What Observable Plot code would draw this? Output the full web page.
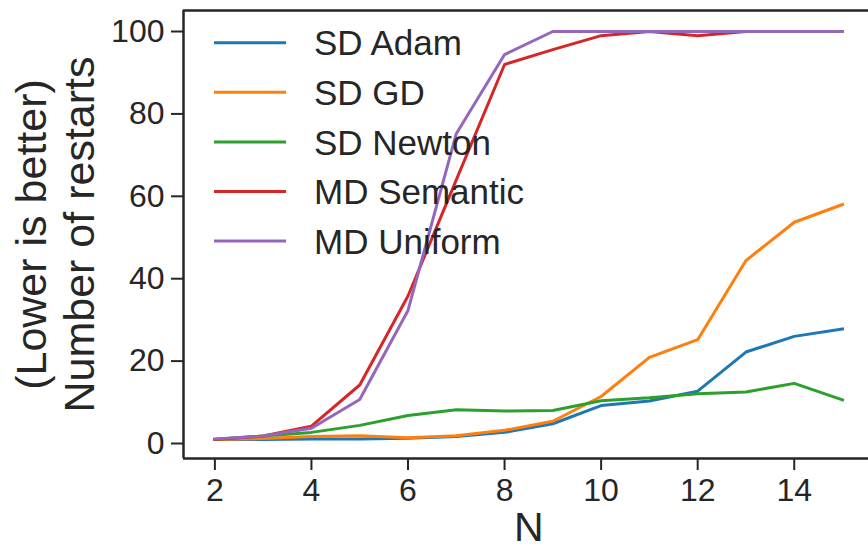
<!DOCTYPE html>
<html>
<head>
<meta charset="utf-8">
<script src="https://cdn.jsdelivr.net/npm/d3@7"></script>
<script src="https://cdn.jsdelivr.net/npm/@observablehq/plot@0.6"></script>
<style>
  html, body { margin: 0; padding: 0; background: #fff; overflow: hidden; }
  #wrap { position: relative; width: 868px; height: 551px; overflow: hidden; }
  #legend { position: absolute; left: 0; top: 0; width: 868px; height: 551px; pointer-events: none; }
</style>
</head>
<body>
<div id="wrap"></div>
<script>
const N = [2, 3, 4, 5, 6, 7, 8, 9, 10, 11, 12, 13, 14, 15];
const seriesNames = ["SD Adam", "SD GD", "SD Newton", "MD Semantic", "MD Uniform"];
const seriesColors = ["#1f77b4", "#ff7f0e", "#2ca02c", "#d62728", "#9467bd"];
const sdAdam     = [1.0, 1.0, 1.1, 1.1, 1.3, 1.7, 2.7, 4.8, 9.2, 10.3, 12.7, 22.2, 26.0, 27.8];
const sdGD       = [1.0, 1.2, 1.7, 1.9, 1.4, 1.9, 3.2, 5.4, 11.4, 20.9, 25.2, 44.4, 53.7, 58.0];
const sdNewton   = [1.0, 1.8, 2.7, 4.4, 6.8, 8.2, 7.9, 8.0, 10.4, 11.1, 12.1, 12.5, 14.6, 10.6];
const mdSemantic = [1.0, 1.8, 4.2, 14.2, 35.8, 64.0, 92.0, 95.6, 99.0, 100, 99.0, 100, 100, 100];
const mdUniform  = [1.1, 1.8, 3.7, 10.7, 32.3, 75.2, 94.4, 100, 100, 100, 100, 100, 100, 100];
const xTicks = [2, 4, 6, 8, 10, 12, 14];
const yTicks = [0, 20, 40, 60, 80, 100];
const xLabel = "N";
const yLabelLines = ["(Lower is better)", "Number of restarts"];

const seriesValues = [sdAdam, sdGD, sdNewton, mdSemantic, mdUniform];
const data = seriesNames.flatMap((s, i) => N.map((n, j) => ({series: s, n, v: seriesValues[i][j]})));

const xDom = [1.35, 15.65];
const yDom = [-3.64, 105.1];
const ink = "#262626";
const font = '"Liberation Sans", Arial, sans-serif';

const chart = Plot.plot({
  width: 868,
  height: 551,
  marginLeft: 183,
  marginRight: 0,
  marginTop: 10,
  marginBottom: 93,
  style: {fontFamily: font, color: ink, background: "white"},
  x: {domain: xDom, range: [183, 873.4]},
  y: {domain: yDom, range: [458, 10]},
  color: {domain: seriesNames, range: seriesColors},
  marks: [
    Plot.axisX({ticks: xTicks, tickSize: 12, tickPadding: 8, fontSize: 32, strokeWidth: 2, stroke: ink, fill: ink, label: null, tickFormat: d => String(d)}),
    Plot.axisY({ticks: yTicks, tickSize: 12, tickPadding: 7, fontSize: 32, strokeWidth: 2, stroke: ink, fill: ink, label: null, tickFormat: d => String(d)}),
    Plot.line(data, {x: "n", y: "v", stroke: "series", strokeWidth: 3, strokeLinejoin: "round", strokeLinecap: "square"}),
    Plot.ruleX([xDom[0]], {stroke: ink, strokeWidth: 2.5}),
    Plot.ruleY([yDom[0]], {stroke: ink, strokeWidth: 2.5}),
    Plot.ruleY([yDom[1]], {stroke: ink, strokeWidth: 2.5}),
    Plot.text([xLabel], {frameAnchor: "bottom", x: (xDom[0] + xDom[1]) / 2, dy: 69, lineAnchor: "middle", fontSize: 41, fill: ink}),
    Plot.text([yLabelLines.join("\n")], {frameAnchor: "left", dx: -129, rotate: -90, lineAnchor: "middle", textAnchor: "middle", fontSize: 43, lineHeight: 1.11, fill: ink})
  ]
});

const wrap = document.getElementById("wrap");
wrap.appendChild(chart);

// Legend overlay
const ns = "http://www.w3.org/2000/svg";
const leg = document.createElementNS(ns, "svg");
leg.setAttribute("id", "legend");
leg.setAttribute("width", 868);
leg.setAttribute("height", 551);
seriesNames.forEach((s, i) => {
  const yy = 42.7 + i * 49.6;
  const ln = document.createElementNS(ns, "line");
  ln.setAttribute("x1", 214); ln.setAttribute("x2", 286);
  ln.setAttribute("y1", yy); ln.setAttribute("y2", yy);
  ln.setAttribute("stroke", seriesColors[i]);
  ln.setAttribute("stroke-width", 3);
  leg.appendChild(ln);
  const tx = document.createElementNS(ns, "text");
  tx.setAttribute("x", 314);
  tx.setAttribute("y", yy);
  tx.setAttribute("dy", "0.36em");
  tx.setAttribute("font-size", 35);
  tx.setAttribute("font-family", font);
  tx.setAttribute("fill", ink);
  tx.textContent = s;
  leg.appendChild(tx);
});
wrap.appendChild(leg);
</script>
</body>
</html>
